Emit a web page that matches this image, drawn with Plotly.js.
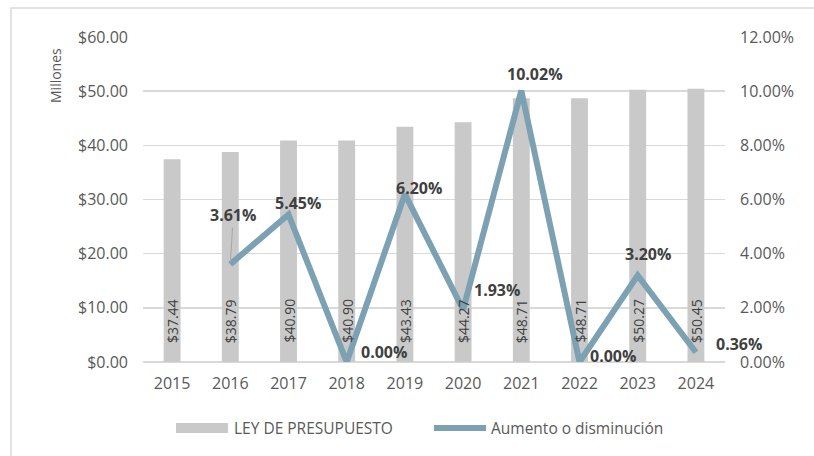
<!DOCTYPE html>
<html>
<head>
<meta charset="utf-8">
<script src="https://cdn.plot.ly/plotly-3.0.1.min.js"></script>
<style>html,body{margin:0;padding:0;background:#fff;}#chart{width:814px;height:456px;}</style>
</head>
<body>
<div id="chart"></div>
<script>
// ---- Data ----
const years = ['2015','2016','2017','2018','2019','2020','2021','2022','2023','2024'];
const budget = [37.44, 38.79, 40.90, 40.90, 43.43, 44.27, 48.71, 48.71, 50.27, 50.45];
const change = [null, 0.0361, 0.0545, 0.0000, 0.0620, 0.0193, 0.1002, 0.0000, 0.0320, 0.0036];
const barName = 'LEY DE PRESUPUESTO';
const lineName = 'Aumento o disminución';

// ---- Styles (label offsets in px, not data) ----
const labelOffsets = [null, [3,-49], [9,11], [37,10], [14,6], [34,20], [14,17], [33,6], [10,21], [43,8]];
const FONT = '"Open Sans", "DejaVu Sans", sans-serif';
const TXT = '#595959';
const BARC = '#c9c9c9';
const LINEC = '#7ba1b3';

const traces = [
  { type:'bar', x:years, y:budget, name:barName, marker:{color:BARC}, yaxis:'y', hoverinfo:'skip' },
  { type:'scatter', mode:'lines', x:years, y:change, name:lineName, yaxis:'y2',
    line:{color:LINEC, width:6}, connectgaps:false, hoverinfo:'skip' }
];

const annotations = [];
years.forEach((yr,i)=>{
  annotations.push({ x:i, y:0, xref:'x', yref:'y', text:'$'+budget[i].toFixed(2), textangle:-90,
    showarrow:false, xanchor:'center', yanchor:'bottom', yshift:17, font:{family:FONT, size:14, color:'#404040'} });
});
change.forEach((v,i)=>{
  if(v===null) return;
  const off = labelOffsets[i];
  const txt = (v*100).toFixed(2)+'%';
  if(i===1){
    annotations.push({ x:i, y:v, xref:'x', yref:'y2', text:'<b>'+txt+'</b>', showarrow:true,
      ax:off[0], ay:off[1], arrowhead:0, arrowwidth:1, arrowcolor:'#a6a6a6', standoff:2,
      font:{family:FONT, size:16, color:'#404040'} });
  } else {
    annotations.push({ x:i, y:v, xref:'x', yref:'y2', text:'<b>'+txt+'</b>', showarrow:false,
      xanchor:'center', yanchor:'middle', xshift:off[0], yshift:off[1],
      font:{family:FONT, size:16, color:'#404040'} });
  }
});
// y axis title
annotations.push({ xref:'paper', yref:'paper', x:(55-143)/582, y:(362-76)/325, text:'Millones', textangle:-90,
  showarrow:false, xanchor:'center', yanchor:'middle', font:{family:FONT, size:14, color:TXT} });
// custom legend
const px = v => (v-143)/582, py = v => (362-v)/325;
annotations.push({ xref:'paper', yref:'paper', x:px(232), y:py(428), text:barName, showarrow:false,
  xanchor:'left', yanchor:'middle', font:{family:FONT, size:15.5, color:TXT} });
annotations.push({ xref:'paper', yref:'paper', x:px(489), y:py(428), text:lineName, showarrow:false,
  xanchor:'left', yanchor:'middle', font:{family:FONT, size:15.5, color:TXT} });

const shapes = [
  { type:'rect', xref:'paper', yref:'paper', x0:px(11), x1:px(830), y0:py(480), y1:py(8),
    line:{color:'#d9d9d9', width:1.5}, fillcolor:'rgba(0,0,0,0)', layer:'below' },
  { type:'rect', xref:'paper', yref:'paper', x0:px(176), x1:px(228), y0:py(433), y1:py(423),
    line:{width:0}, fillcolor:BARC },
  { type:'line', xref:'paper', yref:'paper', x0:px(434), x1:px(486), y0:py(428), y1:py(428),
    line:{color:LINEC, width:6} }
];

const layout = {
  width:814, height:456,
  margin:{l:143, r:89, t:37, b:94},
  paper_bgcolor:'#fff', plot_bgcolor:'#fff',
  font:{family:FONT, color:TXT},
  showlegend:false,
  bargap:0.71,
  xaxis:{ type:'category', range:[-0.5, 9.5], tickfont:{size:16, color:TXT}, showgrid:false, showline:false,
    ticks:'', ticklabelstandoff:10, fixedrange:true },
  yaxis:{ range:[0,60], dtick:10, tickprefix:'$', tickformat:',.2f', tickfont:{size:16, color:TXT},
    gridcolor:'#d9d9d9', gridwidth:1.5, zeroline:true, zerolinecolor:'#d9d9d9', zerolinewidth:1.5,
    showline:false, ticks:'', ticklabelstandoff:14, fixedrange:true },
  yaxis2:{ range:[0,0.12], dtick:0.02, tickformat:'.2%', overlaying:'y', side:'right',
    tickfont:{size:16, color:TXT}, showgrid:false, zeroline:false, showline:false, ticks:'',
    ticklabelstandoff:14, fixedrange:true },
  annotations:annotations,
  shapes:shapes
};

Plotly.newPlot('chart', traces, layout, {staticPlot:true, displayModeBar:false});
</script>
</body>
</html>
